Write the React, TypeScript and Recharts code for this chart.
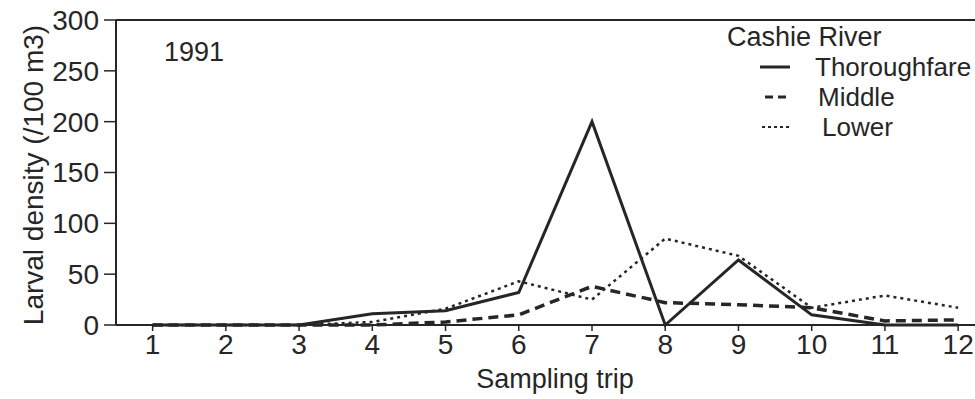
import React from 'react';
import { LineChart, Line, XAxis, YAxis, ReferenceLine, Label } from 'recharts';

const trips = [1, 2, 3, 4, 5, 6, 7, 8, 9, 10, 11, 12];
const thoroughfare = [0, 0, 0, 11, 14, 32, 200, 0, 64, 10, 0, 0];
const middle = [0, 0, 0, 0, 3, 10, 38, 22, 20, 17, 4, 5];
const lower = [0, 0, 0, 3, 16, 43, 25, 85, 68, 17, 29, 17];
const yTicks = [0, 50, 100, 150, 200, 250, 300];

const data = trips.map((trip, i) => ({
    trip,
    thoroughfare: thoroughfare[i],
    middle: middle[i],
    lower: lower[i],
}));

const ink = '#262626';
const font = '"Liberation Sans", Arial, Helvetica, sans-serif';

const legendItems = [
    { name: 'Thoroughfare', dash: undefined, width: 3, x1: 0, x2: 30, textLeft: 55 },
    { name: 'Middle', dash: '8 5', width: 3, x1: 5, x2: 28, textLeft: 58 },
    { name: 'Lower', dash: '3 3', width: 2, x1: 2, x2: 30, textLeft: 62 },
];

export default function App() {
    return (
        <div style={{ position: 'absolute', left: 0, top: 0, width: 975, height: 399, background: '#fff', fontFamily: font }}>
            <LineChart width={975} height={399} data={data} margin={{ top: 20, right: 0, left: 0, bottom: 0 }}>
                <XAxis
                    dataKey="trip"
                    type="number"
                    domain={[0.5, 12.23]}
                    ticks={trips}
                    allowDataOverflow
                    height={74}
                    tickSize={6}
                    tickMargin={3}
                    axisLine={{ stroke: ink, strokeWidth: 2 }}
                    tickLine={{ stroke: ink, strokeWidth: 1.5 }}
                    tick={{ fill: ink, fontSize: 28, fontFamily: font }}
                >
                    <Label
                        content={() => (
                            <text x={555} y={388} textAnchor="middle" fill={ink} fontSize={27} fontFamily={font}>
                                Sampling trip
                            </text>
                        )}
                    />
                </XAxis>
                <YAxis
                    type="number"
                    domain={[0, 300]}
                    ticks={yTicks}
                    width={116}
                    tickSize={12}
                    tickMargin={5}
                    axisLine={{ stroke: ink, strokeWidth: 2 }}
                    tickLine={{ stroke: ink, strokeWidth: 1.5 }}
                    tick={{ fill: ink, fontSize: 28, fontFamily: font }}
                >
                    <Label
                        content={() => (
                            <text
                                x={0}
                                y={0}
                                transform="translate(43 175) rotate(-90)"
                                textAnchor="middle"
                                fill={ink}
                                fontSize={28}
                                fontFamily={font}
                            >
                                Larval density (/100 m3)
                            </text>
                        )}
                    />
                </YAxis>
                <ReferenceLine y={300} stroke={ink} strokeWidth={2} ifOverflow="visible" />
                <Line
                    dataKey="lower"
                    stroke={ink}
                    strokeWidth={2.5}
                    strokeDasharray="3 4"
                    dot={false}
                    isAnimationActive={false}
                />
                <Line
                    dataKey="middle"
                    stroke={ink}
                    strokeWidth={3.5}
                    strokeDasharray="10 6"
                    dot={false}
                    isAnimationActive={false}
                />
                <Line
                    dataKey="thoroughfare"
                    stroke={ink}
                    strokeWidth={3}
                    dot={false}
                    isAnimationActive={false}
                />
            </LineChart>
            <div style={{ position: 'absolute', left: 164, top: 37, fontSize: 27, color: ink, lineHeight: '30px' }}>1991</div>
            <div style={{ position: 'absolute', left: 727, top: 22, color: ink, fontSize: 27, lineHeight: '30px' }}>
                <div>Cashie River</div>
                {legendItems.map((it) => (
                    <div key={it.name} style={{ position: 'relative', height: 30, fontSize: 26 }}>
                        <svg width={40} height={30} style={{ position: 'absolute', left: 33, top: 0 }}>
                            <line x1={it.x1} x2={it.x2} y1={15} y2={15} stroke={ink} strokeWidth={it.width} strokeDasharray={it.dash} />
                        </svg>
                        <span style={{ position: 'absolute', left: it.textLeft + 33, top: 0, whiteSpace: 'nowrap' }}>{it.name}</span>
                    </div>
                ))}
            </div>
        </div>
    );
}
